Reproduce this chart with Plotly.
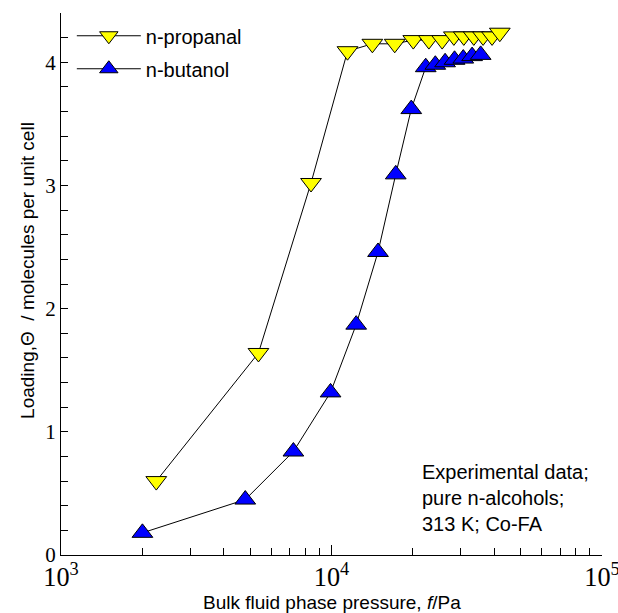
import plotly.graph_objects as go

# n-propanal (yellow, down triangles)
propanal_p = [2250, 5370, 8400, 11460, 14160, 17130, 20060, 22910, 25650,
              28340, 30840, 33580, 36340, 39230, 41900]
propanal_q = [0.60, 1.64, 3.02, 4.09, 4.15, 4.15, 4.18, 4.18, 4.18,
              4.21, 4.21, 4.21, 4.21, 4.21, 4.24]

# n-butanol (blue, up triangles)
butanol_p = [2000, 4800, 7230, 9920, 12340, 14860, 17280, 19720,
             22300, 24200, 26300, 28500, 30700, 33100, 35600]
butanol_q = [0.18, 0.45, 0.84, 1.32, 1.87, 2.46, 3.09, 3.62,
             3.96, 3.98, 4.00, 4.02, 4.03, 4.05, 4.06]

x_title = "Bulk fluid phase pressure, <i>f</i>/Pa"
y_title = "Loading,\u0398 \u00a0/ molecules per unit cell"
note = "Experimental data;<br>pure n-alcohols;<br>313 K; Co-FA"

fig = go.Figure()
fig.add_trace(go.Scatter(
    x=propanal_p, y=propanal_q, mode="lines+markers", name="n-propanal",
    legendgroup="a",
    line=dict(color="black", width=1),
    marker=dict(symbol="triangle-down", size=18, color="#ffff00",
                line=dict(color="black", width=1))))
fig.add_trace(go.Scatter(
    x=butanol_p, y=butanol_q, mode="lines+markers", name="n-butanol",
    legendgroup="b",
    line=dict(color="black", width=1),
    marker=dict(symbol="triangle-up", size=18, color="#0000ff",
                line=dict(color="black", width=1))))

title_font = dict(family="Liberation Sans, Arial", size=19, color="black")

fig.update_layout(
    width=618, height=613,
    margin=dict(l=61, r=16, t=13, b=58),
    paper_bgcolor="white", plot_bgcolor="white",
    font=dict(family="Liberation Sans, Arial", size=20, color="black"),
    showlegend=True,
    legend=dict(x=0.02, y=0.994, xanchor="left", yanchor="top",
                bgcolor="rgba(0,0,0,0)", itemwidth=64,
                tracegroupgap=4,
                font=dict(family="Liberation Sans, Arial", size=20)),
    annotations=[
        dict(text=note, xref="paper", yref="paper", x=0.664, y=0.177,
             xanchor="left", yanchor="top", align="left",
             showarrow=False,
             font=dict(family="Liberation Sans, Arial", size=20)),
        dict(text=x_title, xref="paper", yref="paper", x=0.5, y=-0.087,
             xanchor="center", yanchor="middle", showarrow=False,
             font=title_font),
        dict(text=y_title, xref="paper", yref="paper", x=-0.061, y=0.526,
             xanchor="center", yanchor="middle", showarrow=False,
             textangle=-90, font=title_font),
    ],
)
fig.update_xaxes(
    type="log", range=[3, 5], dtick=1, exponentformat="power",
    automargin=False, ticklabeloverflow="allow",
    showline=True, linecolor="black", linewidth=1, mirror=False,
    showgrid=False, zeroline=False,
    ticks="inside", ticklen=10, tickcolor="black",
    minor=dict(ticks="inside", ticklen=7, tickcolor="black", dtick="D1", showgrid=False),
    tickfont=dict(family="Liberation Serif, Times New Roman", size=21),
)
fig.update_yaxes(
    range=[0, 4.4], dtick=1,
    automargin=False,
    showline=True, linecolor="black", linewidth=1, mirror=False,
    showgrid=False, zeroline=False,
    ticks="inside", ticklen=7, tickcolor="black",
    minor=dict(ticks="inside", ticklen=7, tickcolor="black", dtick=0.2, showgrid=False),
    tickfont=dict(family="Liberation Serif, Times New Roman", size=21),
)

fig.write_html("out.html")
